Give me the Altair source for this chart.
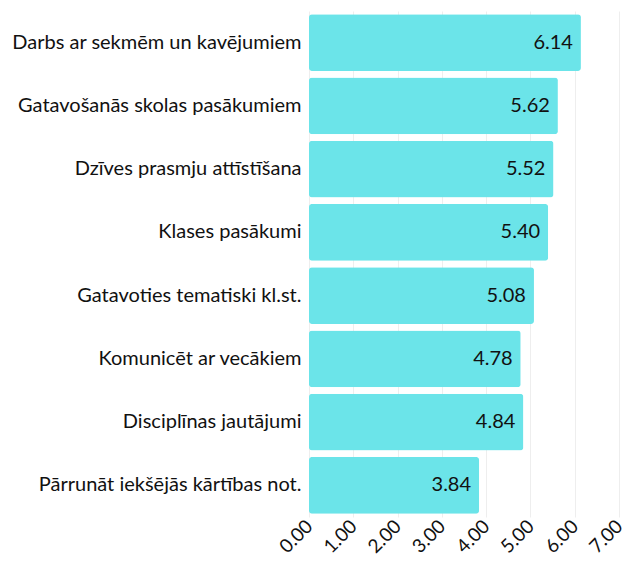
import altair as alt
import pandas as pd

categories = [
    "Darbs ar sekmēm un kavējumiem",
    "Gatavošanās skolas pasākumiem",
    "Dzīves prasmju attīstīšana",
    "Klases pasākumi",
    "Gatavoties tematiski kl.st.",
    "Komunicēt ar vecākiem",
    "Disciplīnas jautājumi",
    "Pārrunāt iekšējās kārtības not.",
]
values = [6.14, 5.62, 5.52, 5.40, 5.08, 4.78, 4.84, 3.84]

df = pd.DataFrame({"cat": categories, "val": values})
FONT = "Lato"

y = alt.Y("cat:N", sort=categories, title=None,
          scale=alt.Scale(paddingInner=0.1, paddingOuter=0.05),
          axis=alt.Axis(domain=False, ticks=False, labelFontSize=20, labelColor="#111",
                        labelFont=FONT, labelPadding=8, labelLimit=400))
x = alt.X("val:Q", title=None, scale=alt.Scale(domain=[0, 7]),
          axis=alt.Axis(values=[0, 1, 2, 3, 4, 5, 6, 7], format=".2f", labelAngle=-45,
                        labelFontSize=19, labelFont=FONT, labelColor="#111", domain=False,
                        ticks=False, gridColor="#eeeeee", labelPadding=6,
                        labelAlign="right", labelBaseline="middle"))

bars = alt.Chart(df).mark_bar(color="#6BE4E9", cornerRadius=3).encode(x=x, y=y)
text = alt.Chart(df).mark_text(align="right", dx=-8, fontSize=20, font=FONT, color="#111").encode(
    x=alt.X("val:Q"), y=alt.Y("cat:N", sort=categories), text=alt.Text("val:Q", format=".2f"))

chart = (bars + text).properties(
    width=619, height=549,
    padding={"left": 3, "top": 3, "right": 0, "bottom": 0},
    autosize=alt.AutoSizeParams(type="fit", contains="padding"),
).configure_view(stroke=None)
chart.save("out.html", embed_options={"renderer": "svg", "actions": False})
